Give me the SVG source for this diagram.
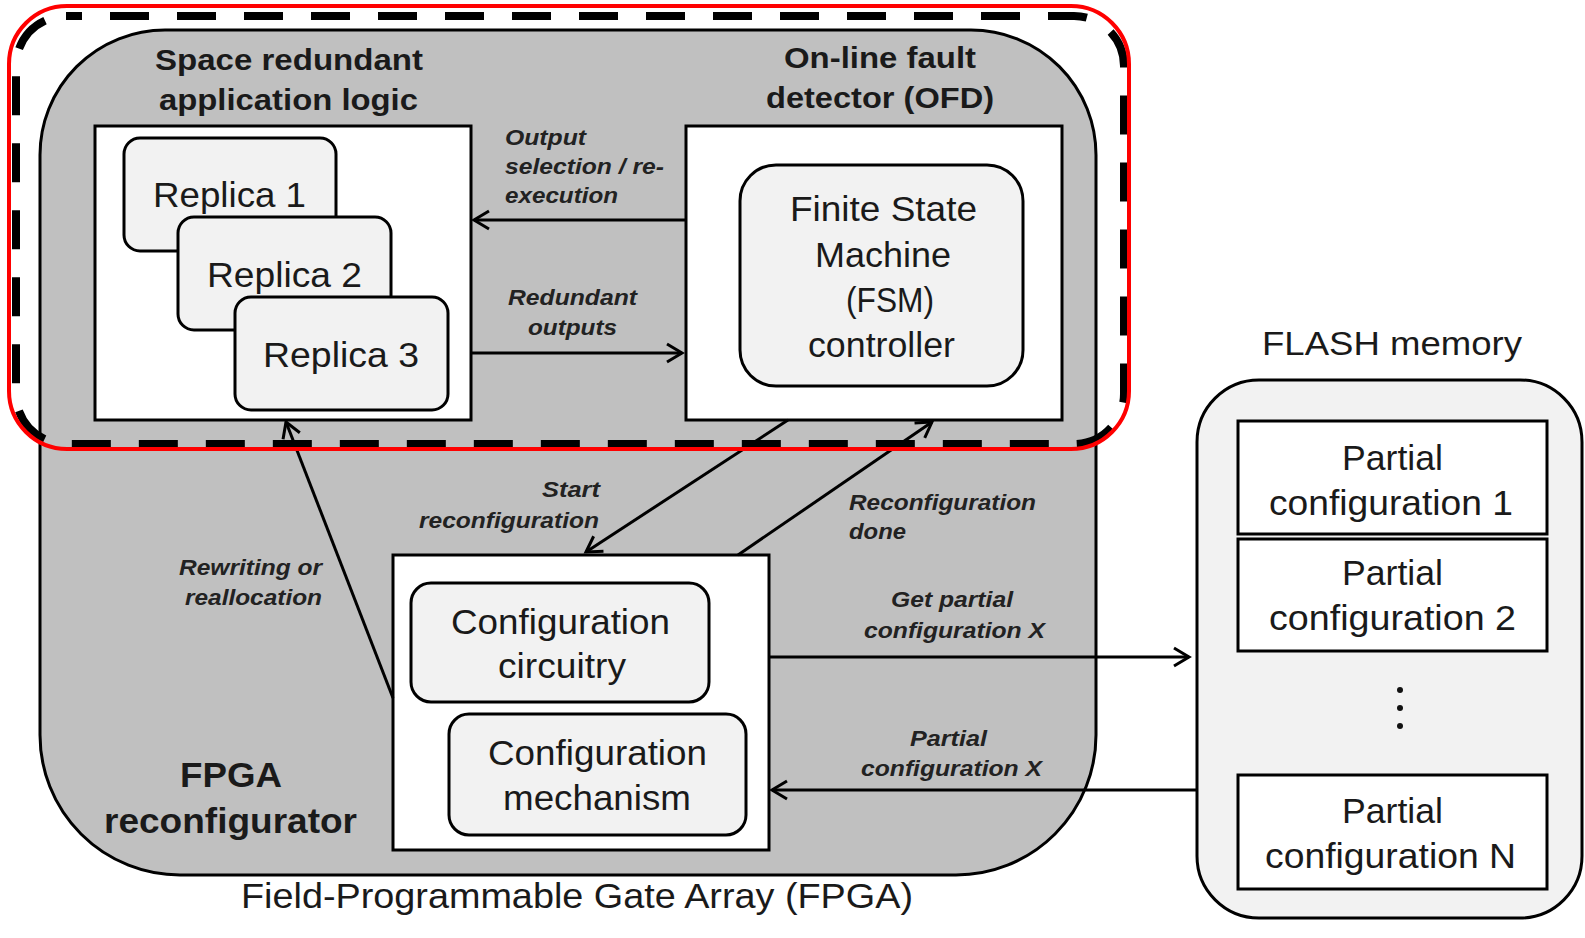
<svg xmlns="http://www.w3.org/2000/svg" width="1585" height="938" viewBox="0 0 1585 938">
<style>
.lbl{font-family:"Liberation Sans",Arial,sans-serif;font-style:italic;font-weight:bold;font-size:22px;fill:#222}
.big{font-family:"Liberation Sans",Arial,sans-serif;font-size:35px;fill:#1a1a1a}
.hdr{font-family:"Liberation Sans",Arial,sans-serif;font-weight:bold;font-size:29px;fill:#1a1a1a}
.hdr2{font-family:"Liberation Sans",Arial,sans-serif;font-weight:bold;font-size:35px;fill:#1a1a1a}
.box{fill:#fff;stroke:#000;stroke-width:3}
.rbox{fill:#f2f2f2;stroke:#000;stroke-width:3}
.conn{stroke:#000;stroke-width:3;fill:none;marker-end:url(#ah)}
</style>
<defs>
<marker id="ah" markerUnits="userSpaceOnUse" viewBox="-18 -12 21 24" refX="0" refY="0" markerWidth="21" markerHeight="24" orient="auto" overflow="visible">
<path d="M-15,-9 L0,0 L-15,9" fill="none" stroke="#000" stroke-width="3"/>
</marker>
</defs>
<rect width="1585" height="938" fill="#fff"/>

<g id="fpga">
<path d="M165 30 H971 A125 125 0 0 1 1096 155 V735 A140 140 0 0 1 956 875 H180 A140 140 0 0 1 40 735 V155 A125 125 0 0 1 165 30 Z" fill="#c0c0c0" stroke="#000" stroke-width="3"/>
<text class="big" x="241" y="908" textLength="672" lengthAdjust="spacingAndGlyphs">Field-Programmable  Gate Array (FPGA)</text>
</g>

<g id="dashed-region">
<rect x="16" y="16" width="1108" height="428" rx="50" fill="none" stroke="#000" stroke-width="8" stroke-dasharray="39 28" stroke-dashoffset="23"/>
</g>

<g id="app-logic">
<text class="hdr" x="155" y="70" textLength="268" lengthAdjust="spacingAndGlyphs">Space redundant</text>
<text class="hdr" x="159" y="110" textLength="259" lengthAdjust="spacingAndGlyphs">application logic</text>
<rect class="box" x="95" y="126" width="376" height="294"/>
</g>
<g id="replica1">
<rect class="rbox" x="124" y="138" width="212" height="113" rx="16"/>
<text class="big" x="153" y="207" textLength="153" lengthAdjust="spacingAndGlyphs">Replica 1</text>
</g>
<g id="replica2">
<rect class="rbox" x="178" y="217" width="213" height="113" rx="16"/>
<text class="big" x="207" y="287" textLength="155" lengthAdjust="spacingAndGlyphs">Replica 2</text>
</g>
<g id="replica3">
<rect class="rbox" x="235" y="297" width="213" height="113" rx="16"/>
<text class="big" x="263" y="367" textLength="156" lengthAdjust="spacingAndGlyphs">Replica 3</text>
</g>

<g id="ofd">
<text class="hdr" x="784" y="68" textLength="192" lengthAdjust="spacingAndGlyphs">On-line fault</text>
<text class="hdr" x="766" y="108" textLength="228" lengthAdjust="spacingAndGlyphs">detector (OFD)</text>
<rect class="box" x="686" y="126" width="376" height="294"/>
</g>
<g id="fsm">
<rect class="rbox" x="740" y="165" width="283" height="221" rx="36"/>
<text class="big" x="790" y="221" textLength="187" lengthAdjust="spacingAndGlyphs">Finite State</text>
<text class="big" x="815" y="267" textLength="136" lengthAdjust="spacingAndGlyphs">Machine</text>
<text class="big" x="846" y="312" textLength="88" lengthAdjust="spacingAndGlyphs">(FSM)</text>
<text class="big" x="808" y="357" textLength="147" lengthAdjust="spacingAndGlyphs">controller</text>
</g>

<g id="reconfigurator">
<text class="hdr2" x="180" y="787" textLength="102" lengthAdjust="spacingAndGlyphs">FPGA</text>
<text class="hdr2" x="104" y="833" textLength="253" lengthAdjust="spacingAndGlyphs">reconfigurator</text>
<rect class="box" x="393" y="555" width="376" height="295"/>
</g>
<g id="config-circuitry">
<rect class="rbox" x="411" y="583" width="298" height="119" rx="20"/>
<text class="big" x="451" y="634" textLength="219" lengthAdjust="spacingAndGlyphs">Configuration</text>
<text class="big" x="498" y="678" textLength="128" lengthAdjust="spacingAndGlyphs">circuitry</text>
</g>
<g id="config-mechanism">
<rect class="rbox" x="449" y="714" width="297" height="121" rx="20"/>
<text class="big" x="488" y="765" textLength="219" lengthAdjust="spacingAndGlyphs">Configuration</text>
<text class="big" x="503" y="810" textLength="188" lengthAdjust="spacingAndGlyphs">mechanism</text>
</g>

<g id="flash">
<text class="big" x="1262" y="355" textLength="260" lengthAdjust="spacingAndGlyphs" style="font-size:33px">FLASH memory</text>
<rect class="rbox" x="1197" y="380" width="385" height="538" rx="62"/>
<circle cx="1400" cy="690" r="3" fill="#111"/>
<circle cx="1400" cy="708" r="3" fill="#111"/>
<circle cx="1400" cy="726" r="3" fill="#111"/>
</g>
<g id="partial1">
<rect class="box" x="1238" y="421" width="309" height="113"/>
<text class="big" x="1342" y="470" textLength="101" lengthAdjust="spacingAndGlyphs">Partial</text>
<text class="big" x="1269" y="515" textLength="244" lengthAdjust="spacingAndGlyphs">configuration  1</text>
</g>
<g id="partial2">
<rect class="box" x="1238" y="539" width="309" height="112"/>
<text class="big" x="1342" y="585" textLength="101" lengthAdjust="spacingAndGlyphs">Partial</text>
<text class="big" x="1269" y="630" textLength="247" lengthAdjust="spacingAndGlyphs">configuration  2</text>
</g>
<g id="partialN">
<rect class="box" x="1238" y="775" width="309" height="114"/>
<text class="big" x="1342" y="823" textLength="101" lengthAdjust="spacingAndGlyphs">Partial</text>
<text class="big" x="1265" y="868" textLength="251" lengthAdjust="spacingAndGlyphs">configuration  N</text>
</g>

<g id="connectors">
<line class="conn" x1="686" y1="220" x2="474" y2="220"/>
<line class="conn" x1="471" y1="353" x2="682" y2="353"/>
<line class="conn" x1="788" y1="420" x2="586" y2="552"/>
<line class="conn" x1="738" y1="555" x2="932" y2="422"/>
<line class="conn" x1="393" y1="698" x2="286" y2="422"/>
<line class="conn" x1="769" y1="657" x2="1189" y2="657"/>
<line class="conn" x1="1197" y1="790" x2="772" y2="790"/>
<text class="lbl" x="505" y="145" textLength="81" lengthAdjust="spacingAndGlyphs">Output</text>
<text class="lbl" x="505" y="174" textLength="159" lengthAdjust="spacingAndGlyphs">selection / re-</text>
<text class="lbl" x="505" y="203" textLength="113" lengthAdjust="spacingAndGlyphs">execution</text>
<text class="lbl" x="508" y="305" textLength="129" lengthAdjust="spacingAndGlyphs">Redundant</text>
<text class="lbl" x="528" y="335" textLength="89" lengthAdjust="spacingAndGlyphs">outputs</text>
<text class="lbl" x="542" y="497" textLength="58" lengthAdjust="spacingAndGlyphs">Start</text>
<text class="lbl" x="419" y="528" textLength="180" lengthAdjust="spacingAndGlyphs">reconfiguration</text>
<text class="lbl" x="849" y="510" textLength="187" lengthAdjust="spacingAndGlyphs">Reconfiguration</text>
<text class="lbl" x="849" y="539" textLength="57" lengthAdjust="spacingAndGlyphs">done</text>
<text class="lbl" x="179" y="575" textLength="143" lengthAdjust="spacingAndGlyphs">Rewriting or</text>
<text class="lbl" x="185" y="605" textLength="137" lengthAdjust="spacingAndGlyphs">reallocation</text>
<text class="lbl" x="891" y="607" textLength="122" lengthAdjust="spacingAndGlyphs">Get partial</text>
<text class="lbl" x="864" y="638" textLength="181" lengthAdjust="spacingAndGlyphs">configuration X</text>
<text class="lbl" x="910" y="746" textLength="77" lengthAdjust="spacingAndGlyphs">Partial</text>
<text class="lbl" x="861" y="776" textLength="181" lengthAdjust="spacingAndGlyphs">configuration X</text>
</g>

<g id="highlight">
<rect x="9" y="6" width="1120" height="443" rx="58" fill="none" stroke="#ff0000" stroke-width="4"/>
</g>
</svg>
